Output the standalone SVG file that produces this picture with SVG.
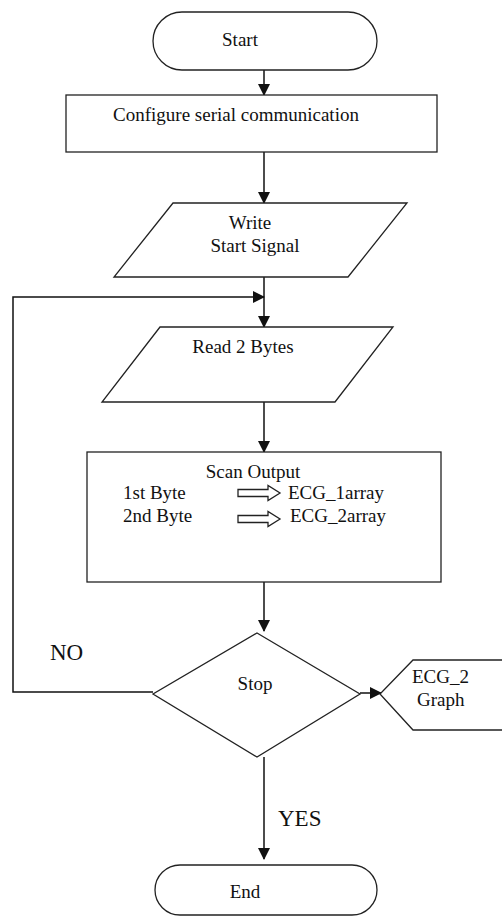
<svg xmlns="http://www.w3.org/2000/svg" width="502" height="917" viewBox="0 0 502 917">
<defs>
<style>
.s{fill:#fff;stroke:#222;stroke-width:1.3}
.c{fill:none;stroke:#111;stroke-width:1.5}
.t{font-family:"Liberation Serif","Times New Roman",serif;font-size:19px;fill:#111}
.m{text-anchor:middle}
.big{font-size:23px}
</style>
<marker id="ah" markerWidth="12" markerHeight="12" refX="11" refY="6" orient="auto" markerUnits="userSpaceOnUse">
<path d="M0,0 L12,6 L0,12 Z" fill="#111"/>
</marker>
<path id="barrow" d="M0,-3.5 L30,-3.5 L30,-7.5 L42,0 L30,7.5 L30,3.5 L0,3.5 Z" class="s"/>
</defs>
<rect width="502" height="917" fill="#fff"/>
<g id="connectors">
<line class="c" x1="264" y1="70" x2="264" y2="95" marker-end="url(#ah)"/>
<line class="c" x1="264" y1="152" x2="264" y2="203" marker-end="url(#ah)"/>
<line class="c" x1="264" y1="277" x2="264" y2="327" marker-end="url(#ah)"/>
<polyline class="c" points="153,692 13,692 13,297 264,297" marker-end="url(#ah)"/>
<line class="c" x1="264" y1="402" x2="264" y2="452" marker-end="url(#ah)"/>
<line class="c" x1="264" y1="582" x2="264" y2="631" marker-end="url(#ah)"/>
<line class="c" x1="360" y1="693" x2="381" y2="693" marker-end="url(#ah)"/>
<line class="c" x1="264" y1="757" x2="264" y2="859" marker-end="url(#ah)"/>
<text class="t big" x="50" y="660">NO</text>
<text class="t big" x="278" y="826">YES</text>
</g>
<g id="start">
<rect class="s" x="153" y="12" width="224" height="58" rx="29"/>
<text class="t m" x="240" y="46">Start</text>
</g>
<g id="configure">
<rect class="s" x="66" y="95" width="371" height="57"/>
<text class="t m" x="236" y="121">Configure serial communication</text>
</g>
<g id="write">
<polygon class="s" points="173,203 407,203 348,277 114,277"/>
<text class="t m" x="250" y="229">Write</text>
<text class="t m" x="255" y="252">Start Signal</text>
</g>
<g id="read">
<polygon class="s" points="160,327 393,327 335,402 102,402"/>
<text class="t m" x="243" y="353">Read 2 Bytes</text>
</g>
<g id="scan">
<rect class="s" x="87" y="452" width="354" height="130"/>
<text class="t m" x="253" y="478">Scan Output</text>
<text class="t" x="123" y="499">1st Byte</text>
<use href="#barrow" x="238" y="493"/>
<text class="t" x="288" y="499">ECG_1array</text>
<text class="t" x="123" y="522">2nd Byte</text>
<use href="#barrow" x="238" y="519"/>
<text class="t" x="290" y="522">ECG_2array</text>
</g>
<g id="stop">
<polygon class="s" points="257,633 360,694 257,757 153,694"/>
<text class="t m" x="255" y="690">Stop</text>
</g>
<g id="graph">
<path class="s" d="M505,660 L413,660 L380,694 L413,730 L505,730"/>
<text class="t" x="412" y="683">ECG_2</text>
<text class="t" x="417" y="706">Graph</text>
</g>
<g id="end">
<rect class="s" x="155" y="865" width="222" height="50" rx="25"/>
<text class="t m" x="245" y="898">End</text>
</g>
</svg>
